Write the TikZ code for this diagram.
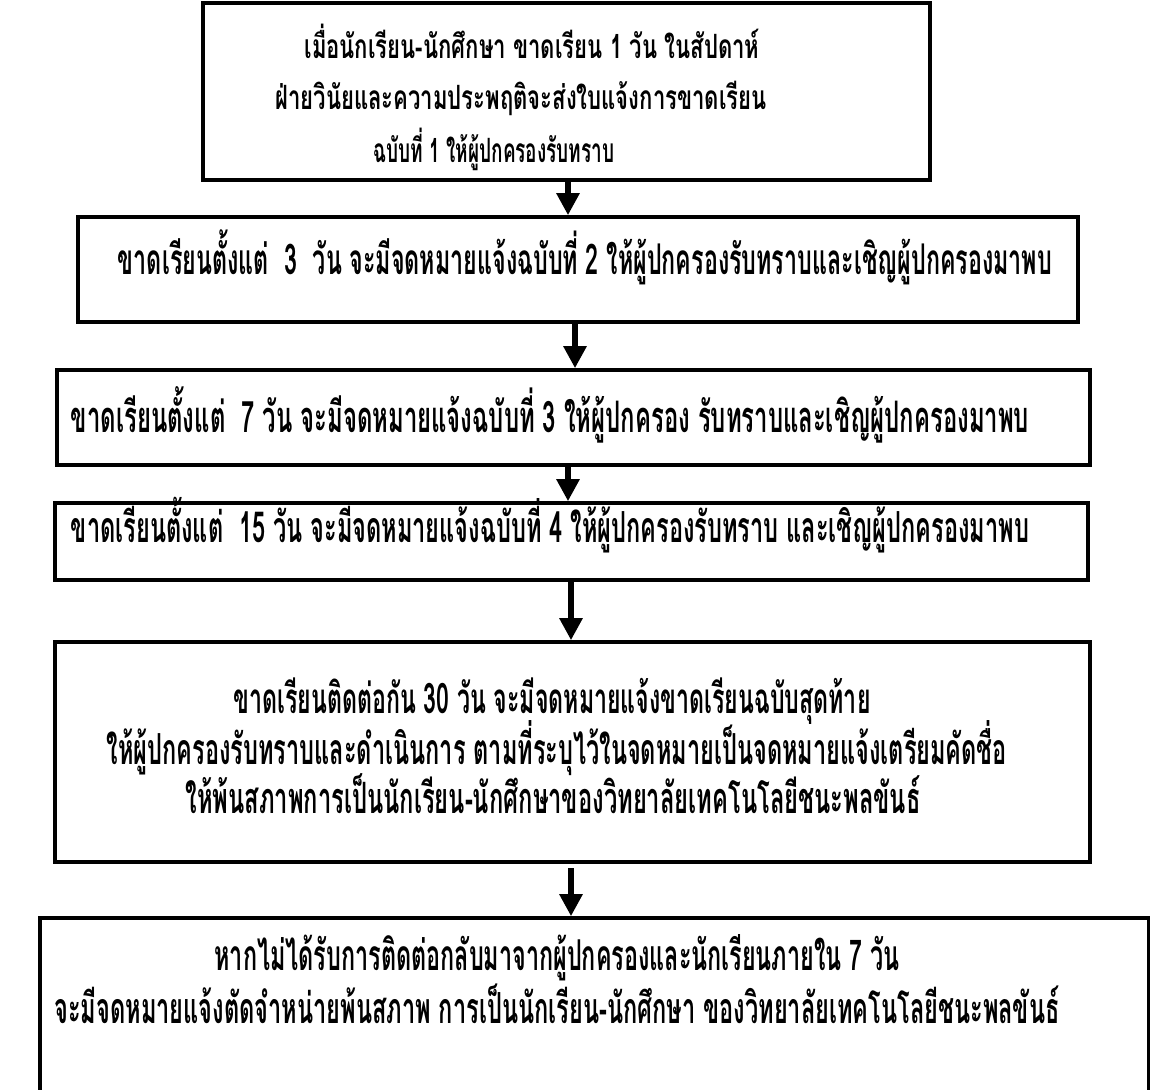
\documentclass[tikz,border=0pt]{standalone}
\usepackage{fontspec}
\usepackage{graphicx}
\usetikzlibrary{arrows.meta}
\newfontfamily\thaiA[Script=Thai,FakeStretch=0.66]{Loma}
\newfontfamily\thaiC[Script=Thai,FakeStretch=0.55]{Loma}
\newcommand\fitw[2]{\resizebox{\dimexpr #1pt/2\relax}{!}{#2}}
\newlength\mylen
\newcommand\fitglobal[2]{\settowidth\mylen{#2}\pgfmathsetmacro\tmpscale{#1*0.5/\mylen}\global\let\sA\tmpscale\scalebox{\sA}{#2}}
\newcommand\narrowA[2]{\pgfmathsetmacro\tmph{\sA*#1}\scalebox{\tmph}[\sA]{#2}}
\tikzset{
  box/.style={draw=black, line width=1.8pt, fill=white, inner sep=0pt},
  arr/.style={line width=3pt, -{Triangle[width=11pt,length=11pt]}},
  lineA/.style={anchor=base, inner sep=0pt, font=\thaiA\bfseries},
  lineC/.style={anchor=base, inner sep=0pt, font=\thaiC\bfseries}
}
\begin{document}
\begin{tikzpicture}[x=0.5pt,y=-0.5pt]
\useasboundingbox (0,0) rectangle (1150,1089);
% boxes
\node[box, minimum width=363.5pt, minimum height=88.5pt] (B1) at (566.5,91.5) {};
\node[box, minimum width=500pt, minimum height=52.5pt] (B2) at (578,269.5) {};
\node[box, minimum width=516.5pt, minimum height=47.5pt] (B3) at (573.5,417.5) {};
\node[box, minimum width=516.5pt, minimum height=38.5pt] (B4) at (571.5,541.5) {};
\node[box, minimum width=517.5pt, minimum height=110pt] (B5) at (572.5,752) {};
\node[box, minimum width=554.5pt, minimum height=101pt] (B6) at (594.5,1019) {};
% texts
\node[lineA] (t11) at (532,58) {\fitglobal{455}{เมื่อนักเรียน-นักศึกษา ขาดเรียน 1 วัน ในสัปดาห์}};
\node[lineA] (t12) at (521,109) {\scalebox{\sA}{ฝ่ายวินัยและความประพฤติจะส่งใบแจ้งการขาดเรียน}};
\node[lineA] (t13) at (494,162) {\narrowA{0.86}{ฉบับที่ 1 ให้ผู้ปกครองรับทราบ}};
\node[lineC] (t21) at (585,274) {\fitw{934}{ขาดเรียนตั้งแต่~ 3~ วัน จะมีจดหมายแจ้งฉบับที่ 2 ให้ผู้ปกครองรับทราบและเชิญผู้ปกครองมาพบ}};
\node[lineC] (t31) at (550,432) {\fitw{958}{ขาดเรียนตั้งแต่~ 7 วัน จะมีจดหมายแจ้งฉบับที่ 3 ให้ผู้ปกครอง รับทราบและเชิญผู้ปกครองมาพบ}};
\node[lineC] (t41) at (550,542) {\fitw{958}{ขาดเรียนตั้งแต่~ 15 วัน จะมีจดหมายแจ้งฉบับที่ 4 ให้ผู้ปกครองรับทราบ และเชิญผู้ปกครองมาพบ}};
\node[lineC] (t51) at (552,713) {\fitw{637}{ขาดเรียนติดต่อกัน 30 วัน จะมีจดหมายแจ้งขาดเรียนฉบับสุดท้าย}};
\node[lineC] (t52) at (557,764) {\fitw{900}{ให้ผู้ปกครองรับทราบและดำเนินการ ตามที่ระบุไว้ในจดหมายเป็นจดหมายแจ้งเตรียมคัดชื่อ}};
\node[lineC] (t53) at (553,813) {\fitw{735}{ให้พ้นสภาพการเป็นนักเรียน-นักศึกษาของวิทยาลัยเทคโนโลยีชนะพลขันธ์}};
\node[lineC] (t61) at (557,970) {\fitw{685}{หากไม่ได้รับการติดต่อกลับมาจากผู้ปกครองและนักเรียนภายใน 7 วัน}};
\node[lineC] (t62) at (557,1023) {\fitw{1005}{จะมีจดหมายแจ้งตัดจำหน่ายพ้นสภาพ การเป็นนักเรียน-นักศึกษา ของวิทยาลัยเทคโนโลยีชนะพลขันธ์}};
% arrows
\coordinate (x1) at (568,0);
\coordinate (x2) at (575,0);
\coordinate (x3) at (568,0);
\coordinate (x4) at (571,0);
\coordinate (a5) at (571,868);
\draw[arr] (B1.south -| x1) -- (B2.north -| x1);
\draw[arr] (B2.south -| x2) -- (B3.north -| x2);
\draw[arr] (B3.south -| x3) -- (B4.north -| x3);
\draw[arr] (B4.south -| x4) -- (B5.north -| x4);
\draw[arr] (a5) -- (B6.north -| a5);
\end{tikzpicture}
\end{document}
